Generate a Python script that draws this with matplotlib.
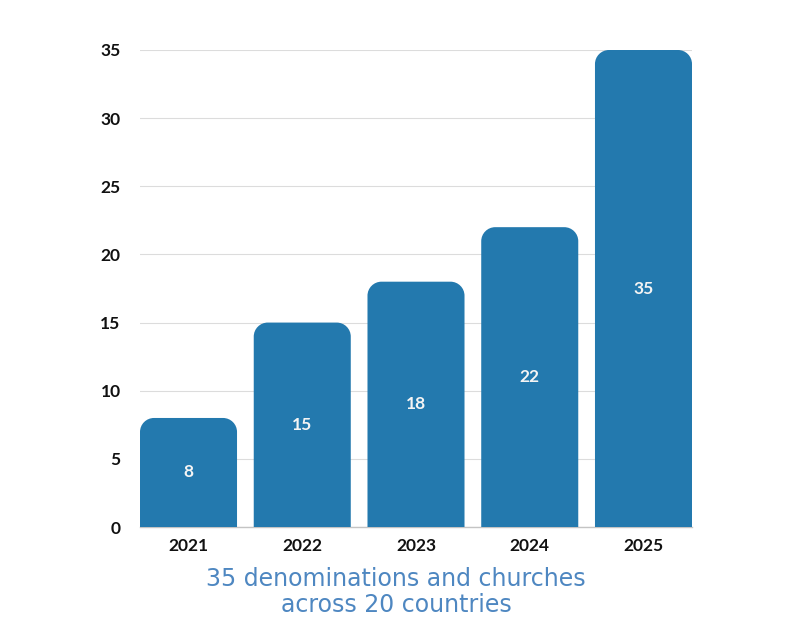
import matplotlib
matplotlib.use("Agg")
import matplotlib.pyplot as plt
from matplotlib.path import Path
from matplotlib.patches import PathPatch

years = ["2021", "2022", "2023", "2024", "2025"]
values = [8, 15, 18, 22, 35]
yticks = [0, 5, 10, 15, 20, 25, 30, 35]
title_lines = ["35 denominations and churches", "across 20 countries"]

W, H = 800, 632
fig = plt.figure(figsize=(W / 100, H / 100), dpi=100)
L, R, B, T = 140, 692, 527, 50
ax = fig.add_axes([L / W, 1 - B / H, (R - L) / W, (B - T) / H])

bw = 0.853
ax.set_xlim(-bw / 2, len(years) - 1 + bw / 2)
ax.set_ylim(0, 35)

px_x = (R - L) / (len(years) - 1 + bw)
px_y = (B - T) / 35.0
rad = 14
rx, ry = rad / px_x, rad / px_y
k = 0.5523

bar_color = "#2379AE"
for i, v in enumerate(values):
    x0, x1 = i - bw / 2, i + bw / 2
    verts = [
        (x0, 0), (x0, v - ry),
        (x0, v - ry + k * ry), (x0 + rx - k * rx, v), (x0 + rx, v),
        (x1 - rx, v),
        (x1 - rx + k * rx, v), (x1, v - ry + k * ry), (x1, v - ry),
        (x1, 0), (x0, 0)]
    codes = [Path.MOVETO, Path.LINETO,
             Path.CURVE4, Path.CURVE4, Path.CURVE4,
             Path.LINETO,
             Path.CURVE4, Path.CURVE4, Path.CURVE4,
             Path.LINETO, Path.CLOSEPOLY]
    ax.add_patch(PathPatch(Path(verts, codes), facecolor=bar_color,
                           edgecolor="none", zorder=3, clip_on=False))
    ax.text(i, v / 2, str(v), ha="center", va="center", color="#f4f4f4",
            fontsize=12.5, fontweight="bold", family="Lato", zorder=4)

ax.set_yticks(yticks)
ax.set_yticklabels([str(t) for t in yticks], family="Lato", fontsize=12.5,
                   fontweight="bold", color="#111111")
ax.set_xticks(range(len(years)))
ax.set_xticklabels(years, family="Lato", fontsize=12.5, fontweight="bold",
                   color="#111111")
ax.tick_params(axis="both", length=0)
ax.tick_params(axis="y", pad=14)
ax.tick_params(axis="x", pad=8)
ax.grid(axis="y", color="#dcdcdc", linewidth=0.8, zorder=0)
for s in ["top", "right", "left"]:
    ax.spines[s].set_visible(False)
ax.spines["bottom"].set_color("#c4c4c4")
ax.spines["bottom"].set_linewidth(1)
ax.spines["bottom"].set_zorder(2)

for j, (line, ypx) in enumerate(zip(title_lines, [579, 605])):
    fig.text(396 / W, 1 - ypx / H, line, ha="center", va="center",
             color="#4E87C1", fontsize=17, family="DejaVu Sans")

fig.savefig("out.png", dpi=100, facecolor="white")
